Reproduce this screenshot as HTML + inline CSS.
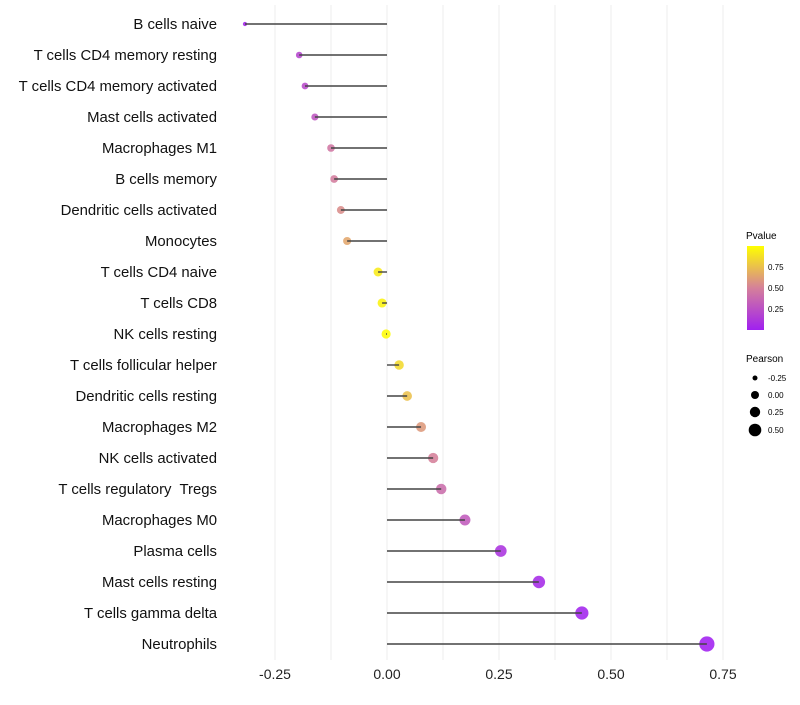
<!DOCTYPE html>
<html><head><meta charset="utf-8"><style>
body{margin:0;background:#fff;font-family:"Liberation Sans",sans-serif}
text{white-space:pre}
</style></head><body>
<svg id="c" width="800" height="700">
<defs><linearGradient id="pg" x1="0" y1="1" x2="0" y2="0">
<stop offset="0" stop-color="#a020f0"/><stop offset="0.5" stop-color="#d5809a"/><stop offset="1" stop-color="#ffff00"/>
</linearGradient></defs>
<g id="grid"></g><g id="dots"></g><g id="stems"></g><g id="labels"></g><g id="ticks"></g>
<g>
<text x="746" y="239" font-size="10">Pvalue</text>
<rect x="747" y="246" width="17" height="84" fill="url(#pg)"/>
<text x="768" y="270" font-size="8">0.75</text>
<text x="768" y="291" font-size="8">0.50</text>
<text x="768" y="312" font-size="8">0.25</text>
</g>
<g>
<text x="746" y="362" font-size="10">Pearson</text>
<circle cx="755" cy="378" r="2.5" fill="#000"/><text x="768" y="381" font-size="8">-0.25</text>
<circle cx="755" cy="395" r="4" fill="#000"/><text x="768" y="398" font-size="8">0.00</text>
<circle cx="755" cy="412" r="5.2" fill="#000"/><text x="768" y="415" font-size="8">0.25</text>
<circle cx="755" cy="430" r="6.3" fill="#000"/><text x="768" y="433" font-size="8">0.50</text>
</g>
</svg>
<script>
const cells=["B cells naive","T cells CD4 memory resting","T cells CD4 memory activated","Mast cells activated","Macrophages M1","B cells memory","Dendritic cells activated","Monocytes","T cells CD4 naive","T cells CD8","NK cells resting","T cells follicular helper","Dendritic cells resting","Macrophages M2","NK cells activated","T cells regulatory  Tregs","Macrophages M0","Plasma cells","Mast cells resting","T cells gamma delta","Neutrophils"];
const pearson=[-0.317,-0.196,-0.183,-0.161,-0.125,-0.118,-0.103,-0.089,-0.020,-0.011,-0.002,0.027,0.045,0.076,0.103,0.121,0.174,0.254,0.339,0.435,0.714];
const pvalue=[0.03,0.2,0.22,0.28,0.45,0.48,0.55,0.65,0.92,0.95,0.99,0.85,0.75,0.6,0.5,0.4,0.3,0.1,0.05,0.02,0.0];
const xTicks=[-0.25,0,0.25,0.5,0.75];
const xTickLabels=["-0.25","0.00","0.25","0.50","0.75"];
const NS="http://www.w3.org/2000/svg";
const xs=v=>387+v*448, ys=i=>24+i*31;
function mk(t,a,p){const e=document.createElementNS(NS,t);for(const k in a)e.setAttribute(k,a[k]);document.getElementById(p).appendChild(e);return e;}
function lerp(a,b,t){return a.map((v,i)=>Math.round(v+(b[i]-v)*t));}
function col(p){const A=[160,32,240],B=[213,128,154],C=[255,255,0];const c=p<0.5?lerp(A,B,p/0.5):lerp(B,C,(p-0.5)/0.5);return`rgb(${c})`;}
for(let v=-0.25;v<=0.8;v+=0.125){const g=mk("line",{x1:xs(v),x2:xs(v),y1:5,y2:660,stroke:"#ececec","stroke-width":1},"grid");

}
xTicks.forEach((v,i)=>{const t=mk("text",{x:xs(v),y:679,"text-anchor":"middle","font-size":14,fill:"#222"},"ticks");t.textContent=xTickLabels[i];

});
cells.forEach((c,i)=>{
const y=ys(i);
const l=mk("text",{x:217,y:y+5,"text-anchor":"end","font-size":14.9,fill:"#111"},"labels");l.textContent=c;


const r=Math.sqrt(Math.max(2.2,21+52*pearson[i]));
const d=mk("circle",{cx:xs(pearson[i]),cy:y,r:r,fill:col(pvalue[i]),"fill-opacity":0.88},"dots");


const s=mk("line",{x1:xs(0),x2:xs(pearson[i]),y1:y,y2:y,stroke:"#444","stroke-width":1.4},"stems");


});
</script>
</body></html>
